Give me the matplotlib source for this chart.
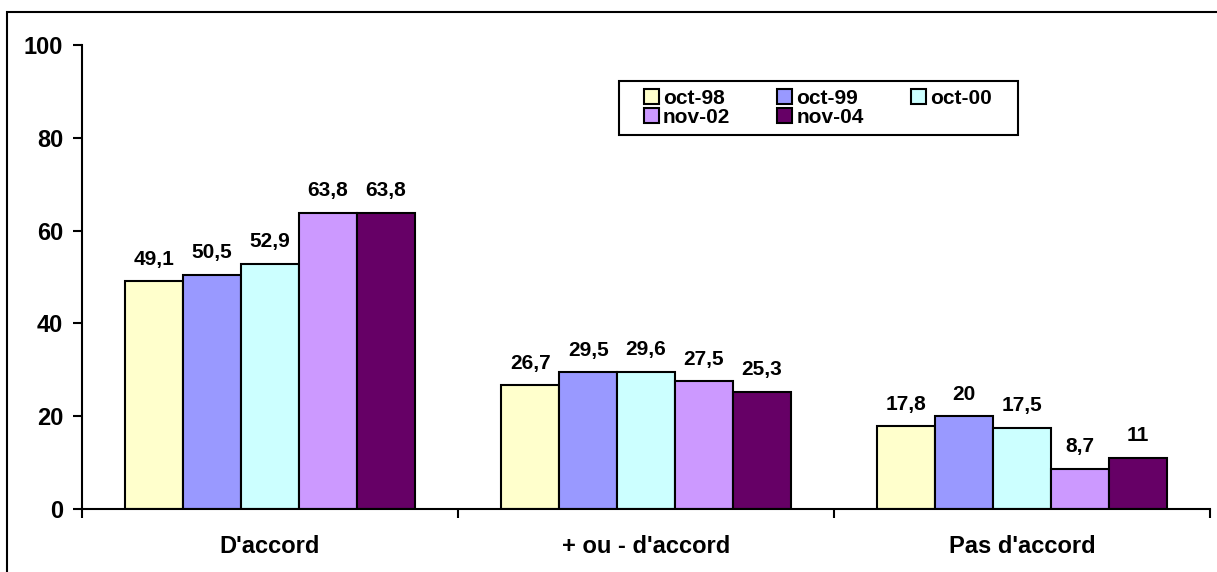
import matplotlib.pyplot as plt
from matplotlib.patches import Rectangle
import numpy as np

plt.rcParams["font.family"] = ["Liberation Sans", "DejaVu Sans"]
plt.rcParams["font.weight"] = "bold"

categories = ["D'accord", "+ ou - d'accord", "Pas d'accord"]
series = ["oct-98", "oct-99", "oct-00", "nov-02", "nov-04"]
values = {
    "oct-98": [49.1, 26.7, 17.8],
    "oct-99": [50.5, 29.5, 20],
    "oct-00": [52.9, 29.6, 17.5],
    "nov-02": [63.8, 27.5, 8.7],
    "nov-04": [63.8, 25.3, 11],
}
colors = ["#FFFFCC", "#9999FF", "#CCFFFF", "#CC99FF", "#660066"]

W, H = 1217, 572
fig = plt.figure(figsize=(W / 100, H / 100), dpi=100)
ax = fig.add_axes([82 / W, 1 - 509 / H, (1210 - 82) / W, (509 - 45) / H])

# outer chart border (only top/left visible in the crop)
fig.patches.append(Rectangle((7 / W, -0.2), 1.2, 0.2 + (H - 12) / H, transform=fig.transFigure,
                             fill=False, edgecolor="black", linewidth=1.5))

x = np.arange(len(categories))
w = 1 / 6.5
handles = []
for i, (name, col) in enumerate(zip(series, colors)):
    pos = x - 2 * w + i * w
    bars = ax.bar(pos, values[name], width=w, color=col, edgecolor="black", linewidth=1.5, label=name)
    handles.append(bars)
    for p, v in zip(pos, values[name]):
        lbl = f"{v:g}".replace(".", ",")
        ax.annotate(lbl, (p, v), xytext=(0, 9), textcoords="offset points",
                    ha="center", va="bottom", fontsize=15, fontweight="bold")

ax.set_xlim(-0.5, 2.5)
ax.set_ylim(0, 100)
ax.set_yticks(range(0, 101, 20))
ax.tick_params(axis="y", direction="out", length=6.5, width=1.5, labelsize=17, pad=7)
ax.set_xticks([-0.5, 0.5, 1.5, 2.5])
ax.set_xticklabels([])
ax.tick_params(axis="x", which="major", direction="out", length=6.5, width=1.5)
ax.set_xticks(x, minor=True)
ax.set_xticklabels(categories, minor=True, fontsize=17, fontweight="bold")
ax.tick_params(axis="x", which="minor", length=0, pad=19)
for s in ["top", "right"]:
    ax.spines[s].set_visible(False)
for s in ["left", "bottom"]:
    ax.spines[s].set_linewidth(1.5)

# legend: row-wise order in 3 columns, frame drawn separately
order = [0, 3, 1, 4, 2]
leg = fig.legend([handles[i] for i in order], [series[i] for i in order], ncol=3,
                 loc="upper left", bbox_to_anchor=(644 / W, 1 - 89 / H),
                 bbox_transform=fig.transFigure, frameon=False,
                 handlelength=0.72, handleheight=0.72, handletextpad=0.19,
                 columnspacing=2.26, labelspacing=0.0, borderpad=0, borderaxespad=0,
                 prop={"weight": "bold", "size": 15})
fig.patches.append(Rectangle((619 / W, 1 - 135 / H), (1018 - 619) / W, 54 / H,
                             transform=fig.transFigure, fill=False, edgecolor="black",
                             linewidth=1.5, zorder=5))

fig.savefig("out.png", dpi=100)
